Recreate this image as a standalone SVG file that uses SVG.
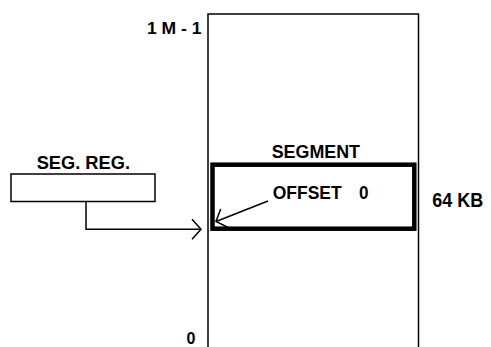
<svg xmlns="http://www.w3.org/2000/svg" width="491" height="347" viewBox="0 0 491 347">
<style>
text{font-family:"Liberation Sans",Arial,sans-serif;font-weight:bold;fill:#000}
.thin{fill:none;stroke:#000;stroke-width:1.5}
.thick{fill:none;stroke:#000;stroke-width:4.5}
</style>
<defs>
<marker id="chev" markerWidth="12" markerHeight="22" refX="10" refY="11" orient="auto" markerUnits="userSpaceOnUse">
<path d="M1,1 L10,11 L1,21" fill="none" stroke="#000" stroke-width="1.5"/>
</marker>
</defs>
<rect width="491" height="347" fill="#fff"/>
<g id="memory">
<path class="thin" d="M208,350 V14 H418.5 V350"/>
<text x="147" y="34" font-size="16.5" textLength="54.5" lengthAdjust="spacingAndGlyphs">1 M - 1</text>
<text x="186.5" y="344" font-size="16">0</text>
</g>
<g id="segment">
<rect class="thick" x="212.5" y="164.7" width="201.8" height="64"/>
<text x="271.7" y="157.5" font-size="17.5" textLength="88.3" lengthAdjust="spacingAndGlyphs">SEGMENT</text>
<text x="272.7" y="198.5" font-size="17.5" textLength="69" lengthAdjust="spacingAndGlyphs">OFFSET</text>
<text x="359" y="198.5" font-size="17.5" textLength="9.5" lengthAdjust="spacingAndGlyphs">0</text>
<text x="432.3" y="206.5" font-size="21" textLength="51" lengthAdjust="spacingAndGlyphs">64 KB</text>
</g>
<g id="segreg">
<rect class="thin" x="11" y="174" width="144" height="27.5"/>
<text x="36.7" y="169" font-size="17.5" textLength="93.3" lengthAdjust="spacingAndGlyphs">SEG. REG.</text>
</g>
<g id="connectors">
<path class="thin" d="M86,201.5 V229.3 H201" marker-end="url(#chev)"/>
<path class="thin" d="M268,201 L216,221.5" marker-end="url(#chev)"/>
</g>
</svg>
